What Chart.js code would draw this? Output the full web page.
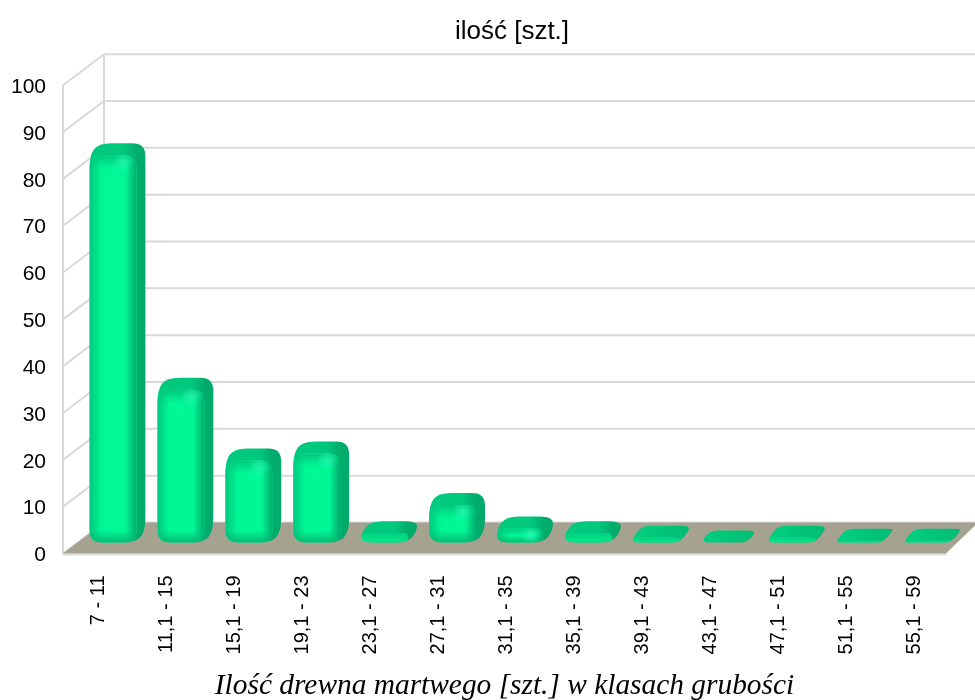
<!DOCTYPE html>
<html><head><meta charset="utf-8">
<style>html,body{margin:0;padding:0;background:#fff}#w{width:975px;height:700px;position:relative}</style>
<script src="https://cdn.jsdelivr.net/npm/chart.js@4"></script>
</head><body><div id="w"><canvas id="c" width="975" height="700"></canvas></div>
<script>
const categories = ["7 - 11","11,1 - 15","15,1 - 19","19,1 - 23","23,1 - 27","27,1 - 31","31,1 - 35","35,1 - 39","39,1 - 43","43,1 - 47","47,1 - 51","51,1 - 55","55,1 - 59"];
const values = [82.7,32.6,17.5,19,2,8,3,2,1,0,1,0.4,0.4];
const chartTitle = "ilość [szt.]";
const xTitle = "Ilość drewna martwego [szt.] w klasach grubości";
const yTicks = {min:0,max:100,step:10};
const wall = {dx:41,dy:-31}, barShift = {dx:16,dy:-11}, barDepth = {dx:9,dy:-12};

function polyPath(ctx,pts,r){
  const p=pts.filter((q,i)=>{const n=pts[(i+1)%pts.length];return Math.hypot(q[0]-n[0],q[1]-n[1])>0.5});
  p.forEach((q,i)=>{
    const a=p[(i-1+p.length)%p.length], b=p[(i+1)%p.length];
    const la=Math.hypot(a[0]-q[0],a[1]-q[1]), lb=Math.hypot(b[0]-q[0],b[1]-q[1]);
    const da=Math.min(r,la/2), db=Math.min(r,lb/2);
    const s=[q[0]+(a[0]-q[0])*da/la,q[1]+(a[1]-q[1])*da/la];
    const e=[q[0]+(b[0]-q[0])*db/lb,q[1]+(b[1]-q[1])*db/lb];
    if(i===0)ctx.moveTo(s[0],s[1]);else ctx.lineTo(s[0],s[1]);
    ctx.quadraticCurveTo(q[0],q[1],e[0],e[1]);
  });
  ctx.closePath();
}
function silhouette(ctx,b){
  const l=b.x-b.width/2+barShift.dx,r=l+b.width,t=b.y+barShift.dy,bt=b.base+barShift.dy,d=barDepth;
  const flat=(bt-t)<8;
  polyPath(ctx,[[l,bt],[r,bt],[r+d.dx,bt+d.dy],[r+d.dx,t+d.dy],[l+d.dx,t+d.dy],[l,t]],flat?8:13);
  return {l,r,flat};
}
function fade(ctx,x0,y0,x1,y1,rgb,len,total,rect){
  const g=ctx.createLinearGradient(x0,y0,x1,y1);
  const e=Math.min(1,len/total);
  g.addColorStop(0,`rgba(${rgb},1)`);g.addColorStop(e,`rgba(${rgb},0)`);
  ctx.fillStyle=g;ctx.fillRect(rect[0],rect[1],rect[2],rect[3]);
}
const scene = {
  id:'scene',
  afterLayout(chart){ chart.titleBlock.left+=39; chart.titleBlock.right+=39; },
  beforeDatasetsDraw(chart){
    const {ctx,scales:{x,y},chartArea:a}=chart;
    const y0=y.getPixelForValue(0);
    ctx.save();
    ctx.strokeStyle='#d9d9d9';ctx.lineWidth=2;
    ctx.beginPath();
    for(let v=yTicks.min;v<=yTicks.max;v+=yTicks.step){
      const py=y.getPixelForValue(v);
      ctx.moveTo(a.left,py);ctx.lineTo(a.left+wall.dx,py+wall.dy);ctx.lineTo(975,py+wall.dy);
    }
    ctx.moveTo(a.left,y0+1);ctx.lineTo(a.left,y.getPixelForValue(yTicks.max));
    ctx.moveTo(a.left+wall.dx,y0+wall.dy);ctx.lineTo(a.left+wall.dx,y.getPixelForValue(yTicks.max)+wall.dy);
    ctx.moveTo(a.left,y0+1);ctx.lineTo(a.right,y0+1);
    ctx.stroke();
    ctx.fillStyle='#a6a290';
    ctx.beginPath();ctx.moveTo(a.left,y0);ctx.lineTo(a.left+wall.dx,y0+wall.dy);ctx.lineTo(975,y0+wall.dy);
    ctx.lineTo(975,y0+wall.dy+3);ctx.lineTo(a.right,y0);ctx.closePath();ctx.fill();
    const meta=chart.getDatasetMeta(0);
    meta.data.forEach(b=>{
      ctx.beginPath();
      const {l,r,flat}=silhouette(ctx,b);
      const g=ctx.createLinearGradient(l,0,r+barDepth.dx,0);
      if(flat){g.addColorStop(0,'#00d07f');g.addColorStop(1,'#00bc75');}
      else{g.addColorStop(0,'#00c87d');g.addColorStop(.6,'#00c87d');g.addColorStop(.84,'#00ac6c');g.addColorStop(1,'#00aa6b');}
      ctx.fillStyle=g;
      ctx.fill();
    });
    ctx.restore();
    ctx.save();
    ctx.beginPath();
    meta.data.forEach(b=>silhouette(ctx,b));
    ctx.clip();
    ctx.translate(barShift.dx,barShift.dy);
  },
  afterDatasetsDraw(chart){
    const ctx=chart.ctx;
    const meta=chart.getDatasetMeta(0);
    meta.data.forEach(b=>{
      const h=b.base-b.y; if(h<1)return;
      const l=b.x-b.width/2,w=b.width,t=b.y;
      const rect=[l,t,w,h];
      ctx.save();
      ctx.beginPath();ctx.roundRect(l,t,w,h,Math.min(10,h/2));ctx.clip();
      if(h>10){
        fade(ctx,l,0,l+w,0,'0,200,125',12,w,rect);
        fade(ctx,l+w,0,l,0,'0,172,108',11,w,rect);
        fade(ctx,0,t,0,t+h,'0,200,125',Math.min(13,h/2),h,rect);
        fade(ctx,0,t+h,0,t,'0,185,115',Math.min(12,h/2),h,rect);
        const hx=l+w*0.72,hy=t+6;
        const rg=ctx.createRadialGradient(hx,hy,0,hx,hy,11);
        rg.addColorStop(0,'rgba(50,255,195,.6)');rg.addColorStop(1,'rgba(50,255,195,0)');
        ctx.fillStyle=rg;ctx.fillRect(hx-11,hy-11,22,22);
      } else {
        ctx.fillStyle='rgba(0,208,127,.45)';ctx.fillRect(l,t,w,h);
        fade(ctx,0,t,0,t+h,'0,208,127',h*0.9,h,rect);
      }
      ctx.restore();
    });
    ctx.restore();
  }
};
new Chart(document.getElementById('c'),{
  type:'bar',
  data:{labels:categories,datasets:[{data:values,backgroundColor:'#00f795',borderWidth:0,borderRadius:10,borderSkipped:false,barPercentage:0.69,categoryPercentage:1,clip:false}]},
  options:{
    responsive:false,animation:false,
    layout:{padding:{left:0,right:29,top:0,bottom:0}},
    plugins:{legend:{display:false},tooltip:{enabled:false},
      title:{display:true,text:chartTitle,color:'#000',font:{family:'"Liberation Sans"',size:26,weight:'normal'},padding:{top:16,bottom:38}}},
    scales:{
      x:{grid:{display:false},border:{display:false},
        ticks:{minRotation:90,maxRotation:90,autoSkip:false,color:'#000',padding:14,labelOffset:2,font:{family:'"Liberation Sans"',size:20}},
        title:{display:true,text:xTitle,color:'#000',font:{family:'"Liberation Serif"',size:29.4,style:'italic'},padding:{top:0,bottom:-4}},
        afterFit(s){s.height=146.5;}},
      y:{min:yTicks.min,max:yTicks.max,grid:{display:false},border:{display:false},
        ticks:{stepSize:yTicks.step,color:'#000',padding:9,labelOffset:2,font:{family:'"Liberation Sans"',size:21}},
        afterFit(s){s.width=63;}}
    }
  },
  plugins:[scene]
});
</script></body></html>
